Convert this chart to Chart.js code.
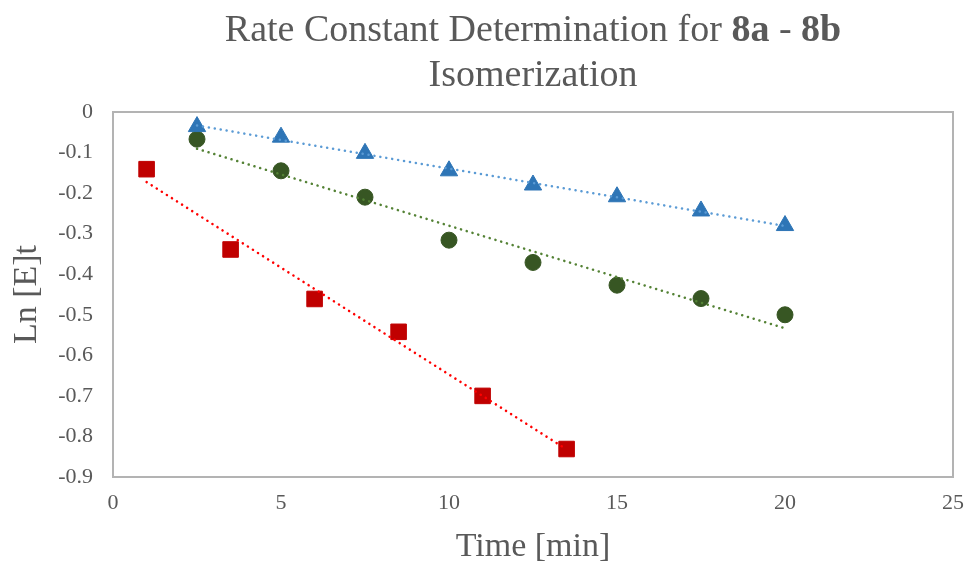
<!DOCTYPE html>
<html>
<head>
<meta charset="utf-8">
<title>Rate Constant Determination</title>
<script src="https://cdn.jsdelivr.net/npm/chart.js@4"></script>
<style>
  body { margin: 0; background: #ffffff; }
  #grafico { display: block; }
</style>
</head>
<body>
<canvas id="grafico" width="968" height="562"></canvas>
<script>
// --- Datos ---
const tiempoTriangulos = [2.5, 5, 7.5, 10, 12.5, 15, 17.5, 20];
const lnTriangulos = [-0.036, -0.062, -0.102, -0.145, -0.180, -0.209, -0.244, -0.280];

const tiempoCirculos = [2.5, 5, 7.5, 10, 12.5, 15, 17.5, 20];
const lnCirculos = [-0.067, -0.145, -0.210, -0.316, -0.371, -0.427, -0.460, -0.500];

const tiempoCuadrados = [1, 3.5, 6, 8.5, 11, 13.5];
const lnCuadrados = [-0.141, -0.339, -0.461, -0.542, -0.700, -0.831];

const xTicks = [0, 5, 10, 15, 20, 25];
const xTickLabels = ["0", "5", "10", "15", "20", "25"];
const yTicks = [0, -0.1, -0.2, -0.3, -0.4, -0.5, -0.6, -0.7, -0.8, -0.9];
const yTickLabels = ["0", "-0.1", "-0.2", "-0.3", "-0.4", "-0.5", "-0.6", "-0.7", "-0.8", "-0.9"];

const FUENTE = "'Liberation Serif', 'Times New Roman', serif";
const GRIS_TEXTO = "#595959";

// ===========================
// Tendencia lineal (minimos cuadrados, como Excel)
// ===========================
function lineaTendencia(xs, ys) {
  const n = xs.length;
  const mx = xs.reduce((a, b) => a + b, 0) / n;
  const my = ys.reduce((a, b) => a + b, 0) / n;
  let sxy = 0, sxx = 0;
  for (let i = 0; i < n; i++) {
    sxy += (xs[i] - mx) * (ys[i] - my);
    sxx += (xs[i] - mx) * (xs[i] - mx);
  }
  const m = sxy / sxx;
  const b = my - m * mx;
  const x0 = Math.min(...xs), x1 = Math.max(...xs);
  return [{ x: x0, y: m * x0 + b }, { x: x1, y: m * x1 + b }];
}

function puntos(xs, ys) {
  return xs.map((x, i) => ({ x: x, y: ys[i] }));
}

function serieTendencia(xs, ys, color) {
  return {
    data: lineaTendencia(xs, ys),
    showLine: true,
    borderColor: color,
    borderWidth: 2.5,
    borderDash: [0.1, 5.9],
    borderCapStyle: "round",
    pointRadius: 0,
    fill: false,
    order: 0
  };
}

// ===========================
// Plugins: marco, titulo y titulos de ejes
// ===========================
const marcoPlugin = {
  id: "marco",
  beforeDatasetsDraw(chart) {
    const { ctx, chartArea: a } = chart;
    ctx.save();
    ctx.strokeStyle = "#b3b3b3";
    ctx.lineWidth = 2;
    ctx.strokeRect(a.left, a.top, a.right - a.left, a.bottom - a.top);
    ctx.restore();
  }
};

const textosPlugin = {
  id: "textos",
  afterDraw(chart) {
    const { ctx, chartArea: a } = chart;
    const cx = (a.left + a.right) / 2;
    ctx.save();
    ctx.fillStyle = GRIS_TEXTO;
    ctx.textBaseline = "alphabetic";

    // titulo, linea 1 con partes en negrita
    const partes = [
      { t: "Rate Constant Determination for ", b: false },
      { t: "8a", b: true },
      { t: " - ", b: false },
      { t: "8b", b: true }
    ];
    let total = 0;
    partes.forEach(p => {
      ctx.font = (p.b ? "bold " : "") + "38px " + FUENTE;
      p.w = ctx.measureText(p.t).width;
      total += p.w;
    });
    let x = cx - total / 2;
    ctx.textAlign = "left";
    partes.forEach(p => {
      ctx.font = (p.b ? "bold " : "") + "38px " + FUENTE;
      ctx.fillText(p.t, x, 41);
      x += p.w;
    });

    // titulo, linea 2
    ctx.textAlign = "center";
    ctx.font = "38px " + FUENTE;
    ctx.fillText("Isomerization", cx, 86);

    // titulo eje x
    ctx.font = "34px " + FUENTE;
    ctx.fillText("Time [min]", cx, 556);

    // titulo eje y
    ctx.translate(36, (a.top + a.bottom) / 2);
    ctx.rotate(-Math.PI / 2);
    ctx.fillText("Ln [E]t", 0, 0);
    ctx.restore();
  }
};

// ===========================
// Grafico
// ===========================
const ctx = document.getElementById("grafico").getContext("2d");

new Chart(ctx, {
  type: "scatter",
  data: {
    datasets: [
      serieTendencia(tiempoTriangulos, lnTriangulos, "#5b9bd5"),
      serieTendencia(tiempoCirculos, lnCirculos, "#548235"),
      serieTendencia(tiempoCuadrados, lnCuadrados, "#ff0000"),
      {
        data: puntos(tiempoTriangulos, lnTriangulos),
        pointStyle: "triangle",
        pointRadius: 10,
        backgroundColor: "#2e75b6",
        borderColor: "#2e75b6",
        borderWidth: 1,
        order: 1
      },
      {
        data: puntos(tiempoCirculos, lnCirculos),
        pointStyle: "circle",
        pointRadius: 8,
        backgroundColor: "#375623",
        borderColor: "#375623",
        borderWidth: 1,
        order: 1
      },
      {
        data: puntos(tiempoCuadrados, lnCuadrados),
        pointStyle: "rect",
        pointRadius: 11,
        backgroundColor: "#c00000",
        borderColor: "#c00000",
        borderWidth: 1,
        order: 1
      }
    ]
  },
  options: {
    responsive: false,
    animation: false,
    layout: { padding: { top: 112, right: 15, left: 0, bottom: 0 } },
    plugins: {
      legend: { display: false },
      title: { display: false },
      tooltip: { enabled: false }
    },
    scales: {
      x: {
        type: "linear",
        min: 0,
        max: 25,
        afterBuildTicks: s => { s.ticks = xTicks.map(v => ({ value: v })); },
        afterFit: s => { s.height = 85; s.paddingLeft = 0; s.paddingRight = 0; },
        grid: { display: false, drawTicks: false },
        border: { display: false },
        ticks: {
          padding: 13,
          color: GRIS_TEXTO,
          font: { family: FUENTE, size: 22 },
          maxRotation: 0,
          callback: (v) => xTickLabels[xTicks.indexOf(v)]
        }
      },
      y: {
        type: "linear",
        min: -0.9,
        max: 0,
        afterBuildTicks: s => { s.ticks = yTicks.map(v => ({ value: v })); },
        afterFit: s => { s.width = 113; s.paddingTop = 0; s.paddingBottom = 0; },
        grid: { display: false, drawTicks: false },
        border: { display: false },
        ticks: {
          padding: 20,
          color: GRIS_TEXTO,
          font: { family: FUENTE, size: 22 },
          callback: (v) => {
            const i = yTicks.findIndex(t => Math.abs(t - v) < 1e-9);
            return i >= 0 ? yTickLabels[i] : "";
          }
        }
      }
    }
  },
  plugins: [marcoPlugin, textosPlugin]
});
</script>
</body>
</html>
